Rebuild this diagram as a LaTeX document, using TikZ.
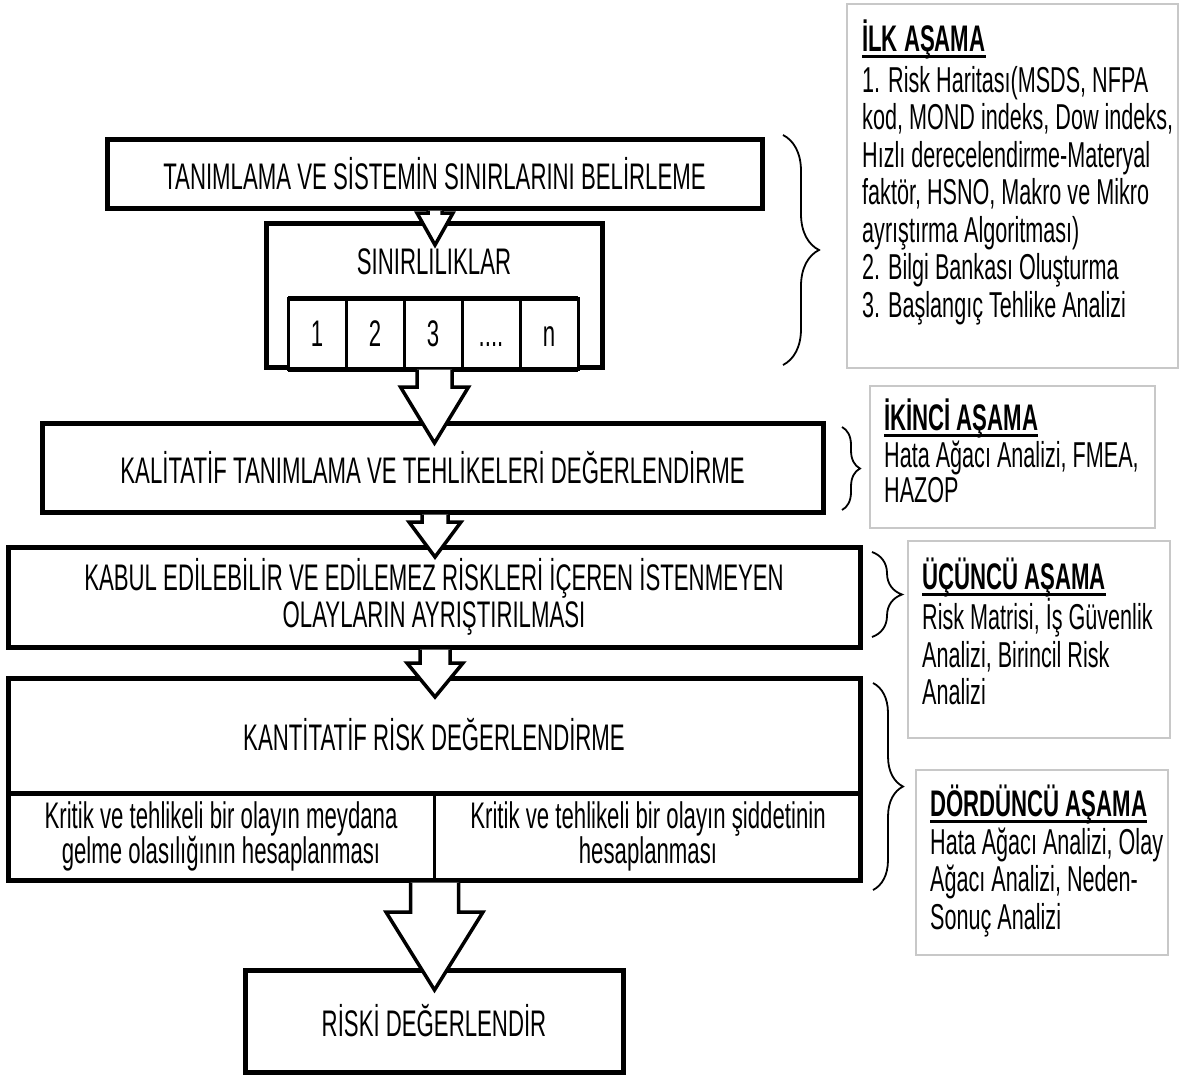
\documentclass[tikz,border=0pt]{standalone}
\usepackage{fontspec}
\setmainfont{Liberation Sans}[FakeStretch=0.6]
\usetikzlibrary{calc,decorations.pathreplacing}
\definecolor{sidegray}{RGB}{200,200,200}
\newcommand\ttlul[1]{\setbox0\hbox{#1}\rlap{\vrule height -3.5pt depth 6.5pt width \wd0}\box0}
\newcommand\blockarrow[5]{% #1 source node, #2 tip coordinate, #3 shaft half, #4 head half, #5 head length
  \draw[blockarr] ($(#1.south -| #2)+(-#3,2.5)$) -- ($(#2)+(-#3,-#5)$) -- ($(#2)+(-#4,-#5)$) -- (#2)
     -- ($(#2)+(#4,-#5)$) -- ($(#2)+(#3,-#5)$) -- ($(#1.south -| #2)+(#3,2.5)$);}
\begin{document}
\begin{tikzpicture}[x=1pt,y=-1pt,
  mainbox/.style={draw, line width=5pt, fill=white, inner sep=0pt, outer sep=0pt,
    font=\fontsize{37}{37}\selectfont, align=center},
  cellbox/.style={draw, line width=3pt, fill=white, inner sep=0pt, outer sep=0pt,
    minimum width=58pt, minimum height=71pt, font=\fontsize{37}{37}\selectfont},
  mtext/.style={inner sep=0pt, font=\fontsize{37}{35}\selectfont, align=center},
  sidebox/.style={draw=sidegray, line width=2pt, fill=white, inner sep=0pt, outer sep=0pt, anchor=north west},
  sidetext/.style={inner sep=0pt, anchor=north west, align=left, font=\fontsize{36}{37.5}\selectfont},
  blockarr/.style={draw, fill=white, line width=3.5pt, line join=miter},
  bracestyle/.style={draw, line width=1.8pt, decorate},
]
\useasboundingbox (0,0) rectangle (1180,1074);
\fill[white] (0,0) rectangle (1180,1074);

% main flow boxes
\node[mainbox, minimum width=655pt, minimum height=69pt] (tanim) at (434.5,173.5) {TANIMLAMA VE SİSTEMİN SINIRLARINI BELİRLEME};
\node[mainbox, minimum width=336pt, minimum height=144pt] (sinir) at (434,295) {};
\node[mtext] (sinirt) at (434,262) {SINIRLILIKLAR};
\node[cellbox] (c1) at (317,333.5) {1};
\node[cellbox] (c2) at (375,333.5) {2};
\node[cellbox] (c3) at (433,333.5) {3};
\node[cellbox] (c4) at (491,333.5) {\vphantom{1}....};
\node[cellbox] (c5) at (549,333.5) {\vphantom{1}n};
\draw[line width=5pt] (c1.north west) -- (c5.north east);
\draw[line width=5pt] (c1.south west) -- (c5.south east);

\node[mainbox, minimum width=781pt, minimum height=89pt] (kalit) at (432.5,467.5) {KALİTATİF TANIMLAMA VE TEHLİKELERİ DEĞERLENDİRME};
\node[mainbox, minimum width=852pt, minimum height=100pt] (kabul) at (434,597) {KABUL EDİLEBİLİR VE EDİLEMEZ RİSKLERİ İÇEREN İSTENMEYEN\\OLAYLARIN AYRIŞTIRILMASI};
\node[mainbox, minimum width=852pt, minimum height=202pt] (kant) at (434,779) {};
\coordinate (dv) at (434,793);
\draw[line width=5pt] (kant.west |- dv) -- (kant.east |- dv);
\draw[line width=3pt] (dv) -- (dv |- kant.south);
\node[mtext] (kantt) at (434,735) {KANTİTATİF RİSK DEĞERLENDİRME};
\node[mtext] (kantl) at (221,836) {Kritik ve tehlikeli bir olayın meydana\\gelme olasılığının hesaplanması};
\node[mtext] (kantr) at (648,836) {Kritik ve tehlikeli bir olayın şiddetinin\\hesaplanması};
\node[mainbox, minimum width=378pt, minimum height=102pt] (riski) at (434,1021) {RİSKİ DEĞERLENDİR};

% block arrows
\coordinate (t1) at (435,245);
\coordinate (t2) at (434.5,443);
\coordinate (t3) at (435,557);
\coordinate (t4) at (435,697);
\coordinate (t5) at (434.5,990);
\blockarrow{tanim}{t1}{7}{18}{32}
\blockarrow{sinir}{t2}{17.5}{34}{56}
\blockarrow{kalit}{t3}{13}{26}{35}
\blockarrow{kabul}{t4}{15}{28}{34}
\blockarrow{kant}{t5}{24}{48.5}{78}

% braces
\draw[bracestyle, decoration={brace, amplitude=36pt}] (783,135) -- (783,365);
\draw[bracestyle, decoration={brace, amplitude=18pt}] (842,427) -- (842,510);
\draw[bracestyle, decoration={brace, amplitude=30pt}] (872,552) -- (872,637);
\draw[bracestyle, decoration={brace, amplitude=30pt}] (873,683) -- (873,890);

% side boxes
\node[sidebox, minimum width=331pt, minimum height=364pt] (ilk) at (847,4) {};
\node[sidetext] (ilkt) at (862,20) {{\fontsize{37}{37}\selectfont\bfseries\ttlul{İLK AŞAMA}}\\[3pt]
1. Risk Haritası(MSDS, NFPA\\
kod, MOND indeks, Dow indeks,\\
Hızlı derecelendirme-Materyal\\
faktör, HSNO, Makro ve Mikro\\
ayrıştırma Algoritması)\\
2. Bilgi Bankası Oluşturma\\
3. Başlangıç Tehlike Analizi};

\node[sidebox, minimum width=285pt, minimum height=142pt] (iki) at (870,386) {};
\node[sidetext] (ikit) at (884,399) {{\fontsize{37}{37}\selectfont\bfseries\ttlul{İKİNCİ AŞAMA}}\\[-1pt]
Hata Ağacı Analizi, FMEA,\\[-2pt]
HAZOP};

\node[sidebox, minimum width=262pt, minimum height=197pt] (ucu) at (908,541) {};
\node[sidetext] (ucut) at (922,558) {{\fontsize{37}{37}\selectfont\bfseries\ttlul{ÜÇÜNCÜ AŞAMA}}\\
Risk Matrisi, İş Güvenlik\\
Analizi, Birincil Risk\\
Analizi};

\node[sidebox, minimum width=252pt, minimum height=185pt] (dor) at (916,770) {};
\node[sidetext] (dort) at (930,785) {{\fontsize{37}{37}\selectfont\bfseries\ttlul{DÖRDÜNCÜ AŞAMA}}\\
Hata Ağacı Analizi, Olay\\
Ağacı Analizi, Neden-\\
Sonuç Analizi};
\end{tikzpicture}
\end{document}
